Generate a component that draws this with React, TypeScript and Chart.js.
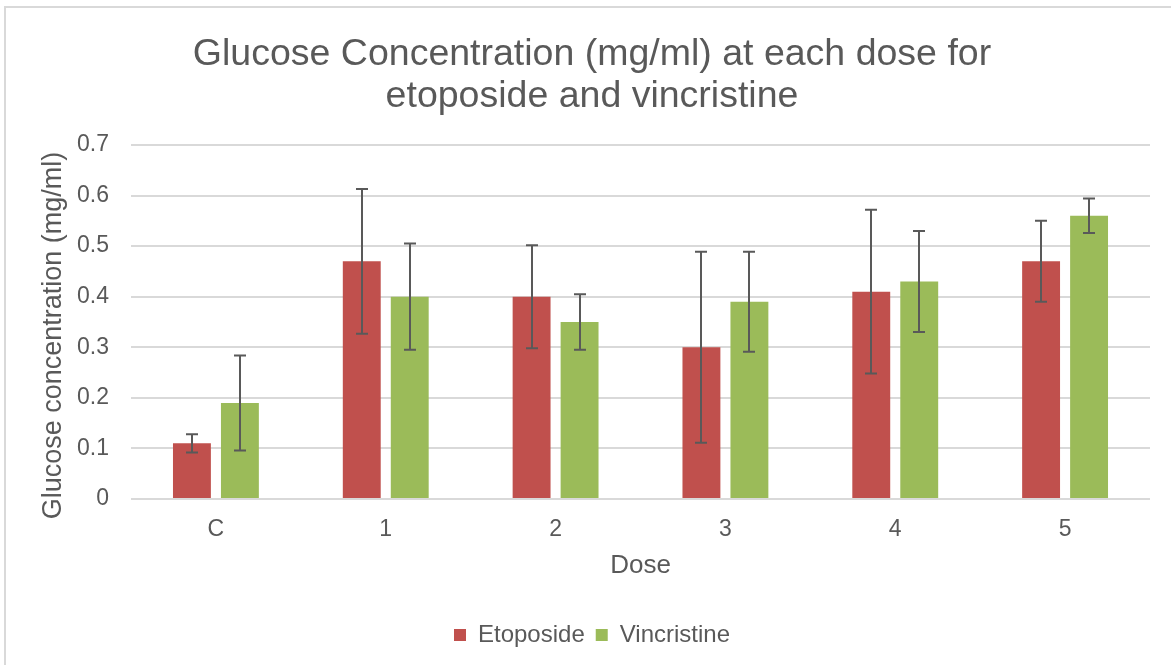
import React, { useEffect, useRef } from "react";
import { Chart, registerables } from "chart.js";

Chart.register(...registerables);

const categories = ["C", "1", "2", "3", "4", "5"];
const etoposide = [0.11, 0.47, 0.4, 0.3, 0.41, 0.47];
const vincristine = [0.19, 0.4, 0.35, 0.39, 0.43, 0.56];
const etoposideErr = [0.018, 0.143, 0.102, 0.189, 0.162, 0.08];
const vincristineErr = [0.094, 0.105, 0.055, 0.099, 0.1, 0.034];
const yTickLabels = ["0", "0.1", "0.2", "0.3", "0.4", "0.5", "0.6", "0.7"];

const FONT = "'Liberation Sans', Arial, sans-serif";
const TEXT = "#595959";

const errorBarPlugin = {
  id: "errorBars",
  afterDatasetsDraw(chart: any) {
    const { ctx } = chart;
    const yScale = chart.scales.y;
    const errs = [etoposideErr, vincristineErr];
    ctx.save();
    ctx.strokeStyle = "#595959";
    ctx.lineWidth = 2;
    chart.data.datasets.forEach((ds: any, i: number) => {
      const meta = chart.getDatasetMeta(i);
      meta.data.forEach((el: any, j: number) => {
        const v = ds.data[j];
        const e = errs[i][j];
        const x = Math.round(el.x);
        const yt = yScale.getPixelForValue(v + e);
        const yb = yScale.getPixelForValue(v - e);
        ctx.beginPath();
        ctx.moveTo(x, yt);
        ctx.lineTo(x, yb);
        ctx.moveTo(x - 6, yt);
        ctx.lineTo(x + 6, yt);
        ctx.moveTo(x - 6, yb);
        ctx.lineTo(x + 6, yb);
        ctx.stroke();
      });
    });
    ctx.restore();
  },
};

export default function App() {
  const ref = useRef<HTMLCanvasElement | null>(null);
  useEffect(() => {
    if (!ref.current) return;
    const chart = new Chart(ref.current, {
      type: "bar",
      data: {
        labels: categories,
        datasets: [
          {
            label: "Etoposide",
            data: etoposide,
            backgroundColor: "#C0504D",
            categoryPercentage: 0.565,
            barPercentage: 0.79,
          },
          {
            label: "Vincristine",
            data: vincristine,
            backgroundColor: "#9BBB59",
            categoryPercentage: 0.565,
            barPercentage: 0.79,
          },
        ],
      },
      options: {
        responsive: false,
        animation: false,
        devicePixelRatio: 1,
        layout: { padding: { left: 34, right: 21, top: 0, bottom: 8 } },
        plugins: {
          title: {
            display: true,
            text: [
              "Glucose Concentration (mg/ml) at each dose for",
              "etoposide and vincristine",
            ],
            color: TEXT,
            font: { family: FONT, size: 37.5, weight: "normal", lineHeight: 1.12 },
            padding: { top: 34, bottom: 27 },
          },
          legend: {
            position: "bottom",
            labels: {
              boxWidth: 12,
              boxHeight: 12,
              padding: 11,
              color: TEXT,
              font: { family: FONT, size: 24 },
            },
          },
          tooltip: { enabled: false },
        },
        scales: {
          x: {
            grid: { display: false, drawTicks: false },
            border: { display: false },
            ticks: { color: TEXT, font: { family: FONT, size: 23 }, padding: 17 },
            title: {
              display: true,
              text: "Dose",
              color: TEXT,
              font: { family: FONT, size: 26, lineHeight: 1.2 },
              padding: { top: 0, bottom: 31 },
            },
            afterFit: (axis: any) => {
              axis.height = 113;
            },
          },
          y: {
            min: 0,
            max: 0.7,
            grid: { color: "#d9d9d9", lineWidth: 2, drawTicks: false },
            border: { display: false },
            ticks: {
              stepSize: 0.1,
              color: TEXT,
              font: { family: FONT, size: 23 },
              padding: 22,
              callback: (_v: any, i: number) => yTickLabels[i],
            },
            title: {
              display: true,
              text: "Glucose concentration (mg/ml)\u2002\u2002",
              color: TEXT,
              font: { family: FONT, size: 27, lineHeight: 1.2 },
              padding: { top: 3, bottom: 0 },
            },
            afterFit: (axis: any) => {
              axis.width = 97;
            },
          },
        },
      },
      plugins: [errorBarPlugin],
    });
    return () => chart.destroy();
  }, []);

  return (
    <div
      style={{
        position: "absolute",
        left: 0,
        top: 0,
        width: 1171,
        height: 665,
        overflow: "hidden",
        background: "#fff",
      }}
    >
      <div
        style={{
          position: "absolute",
          left: 4,
          top: 6,
          width: 1200,
          height: 700,
          border: "2px solid #d9d9d9",
          boxSizing: "border-box",
        }}
      />
      <canvas
        ref={ref}
        width={1171}
        height={665}
        style={{ position: "absolute", left: 0, top: 0, width: 1171, height: 665 }}
      />
    </div>
  );
}
